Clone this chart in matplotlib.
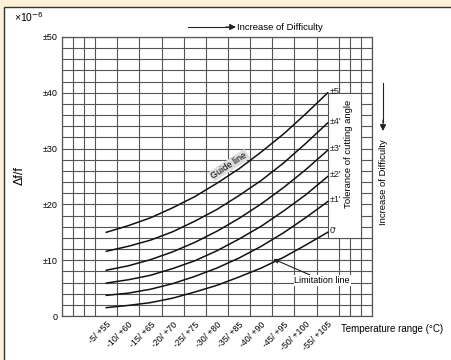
import numpy as np
import matplotlib as mpl
mpl.use('Agg')
import matplotlib.pyplot as plt
from matplotlib.patches import Rectangle

plt.rcParams['font.family'] = ['Liberation Sans', 'DejaVu Sans']

temp_ranges = ['-5/ +55', '-10/ +60', '-15/ +65', '-20/ +70', '-25/ +75', '-30/ +80',
               '-35/ +85', '-40/ +90', '-45/ +95', '-50/ +100', '-55/ +105']
tolerance_labels = ["\u00b15'", "\u00b14'", "\u00b13'", "\u00b12'", "\u00b11'", "0'"]

tol_5 = [15.0, 16.2, 17.6, 19.4, 21.4, 23.8, 26.4, 29.4, 32.6, 36.2, 40.0]
tol_4 = [11.6, 12.5, 13.6, 15.1, 17.0, 19.1, 21.6, 24.3, 27.4, 30.9, 34.6]
tol_3 = [8.2, 9.0, 10.1, 11.5, 13.2, 15.2, 17.5, 20.1, 23.0, 26.2, 29.7]
tol_2 = [5.9, 6.5, 7.3, 8.5, 9.9, 11.7, 13.8, 16.1, 18.8, 21.7, 25.0]
tol_1 = [3.7, 4.1, 4.8, 5.8, 7.1, 8.6, 10.4, 12.5, 14.9, 17.6, 20.5]
tol_0 = [1.5, 1.9, 2.4, 3.2, 4.3, 5.5, 7.0, 8.6, 10.5, 12.7, 15.0]
curves = [tol_5, tol_4, tol_3, tol_2, tol_1, tol_0]

yticks = [0, 10, 20, 30, 40, 50]
ytick_labels = ['0', '\u00b110', '\u00b120', '\u00b130', '\u00b140', '\u00b150']

W, H = 452, 360


def fx(px):
    return px / W


def fy(py):
    return 1 - py / H


fig = plt.figure(figsize=(W / 100, H / 100), dpi=100, facecolor='#fcf0d6')
fig.patches.append(Rectangle((fx(4), -0.02), 1.1, fy(7) + 0.02, transform=fig.transFigure,
                             facecolor='white', edgecolor='#333333', lw=1.0, zorder=-10))

ax = fig.add_axes([fx(62), fy(316), fx(372) - fx(62), fy(37) - fy(316)])
ax.set_xlim(-2, 12)
ax.set_ylim(0, 50)

ax.set_xticks(np.arange(-2, 12.01, 0.5), minor=True)
ax.set_yticks(np.arange(0, 50.01, 2), minor=True)
ax.set_xticks(range(len(temp_ranges)))
ax.set_xticklabels(temp_ranges, rotation=45, ha='right', va='top',
                   rotation_mode='anchor', fontsize=6.3)
ax.set_yticks(yticks)
ax.set_yticklabels(ytick_labels, fontsize=6.5)
ax.tick_params(which='both', length=0, pad=3)
ax.grid(which='minor', color='#555555', lw=0.8)
ax.grid(which='major', axis='y', color='#555555', lw=0.8)
for s in ax.spines.values():
    s.set_color('#555555')
    s.set_linewidth(0.9)
ax.set_axisbelow(True)

# blank panel for the side caption
ax.add_patch(Rectangle((10, 14), 1.5, 26, facecolor='white', edgecolor='#555555',
                       lw=0.8, zorder=2))

x = np.arange(len(temp_ranges))
for vals, lab in zip(curves, tolerance_labels):
    ax.plot(x, vals, color='#111111', lw=1.1, zorder=3)
    ax.text(x[-1] + 0.08, vals[-1] + 0.3, lab, fontsize=6.5, ha='left', va='center',
            zorder=4, color='#222222')

ax.text(5.55, 27.0, 'Guide line', rotation=33, fontsize=6.5, ha='center', va='center',
        zorder=4, bbox=dict(boxstyle='square,pad=0.12', fc='#dddddd', ec='none'))
ax.annotate('Limitation line', xy=(7.55, 10.2), xytext=(8.5, 6.4), fontsize=6.5,
            ha='left', va='center', zorder=4,
            bbox=dict(boxstyle='square,pad=0.1', fc='white', ec='none'),
            arrowprops=dict(arrowstyle='-|>', color='#222222', lw=0.8,
                            mutation_scale=7, shrinkA=0, shrinkB=0))
ax.text(10.95, 29, 'Tolerance of cutting angle', rotation=90, fontsize=6.8,
        ha='center', va='center', zorder=4)

fig.text(fx(14), fy(17), '\u00d710$^{-6}$', fontsize=7.5, ha='left', va='center')
fig.text(fx(20), fy(176), '\u0394f/f', rotation=90, fontsize=9, ha='center', va='center')
fig.text(fx(341), fy(329), 'Temperature range (\u00b0C)', fontsize=7, ha='left', va='center')

fig.text(fx(237), fy(27), 'Increase of Difficulty', fontsize=6.8, ha='left', va='center')
fig.add_artist(plt.Line2D([fx(188), fx(228)], [fy(27), fy(27)], color='#222222', lw=0.8))
ax.annotate('', xy=(fx(236), fy(27)), xytext=(fx(226), fy(27)), xycoords='figure fraction',
            arrowprops=dict(arrowstyle='-|>', color='#222222', lw=0.8, mutation_scale=9,
                            shrinkA=0, shrinkB=0), annotation_clip=False)

fig.text(fx(384), fy(182), 'Increase of Difficulty', rotation=90, fontsize=6.8,
         ha='center', va='center')
fig.add_artist(plt.Line2D([fx(383), fx(383)], [fy(83), fy(122)], color='#222222', lw=0.8))
ax.annotate('', xy=(fx(383), fy(131)), xytext=(fx(383), fy(120)), xycoords='figure fraction',
            arrowprops=dict(arrowstyle='-|>', color='#222222', lw=0.8, mutation_scale=9,
                            shrinkA=0, shrinkB=0), annotation_clip=False)

fig.savefig('out.png', dpi=100, facecolor=fig.get_facecolor())
